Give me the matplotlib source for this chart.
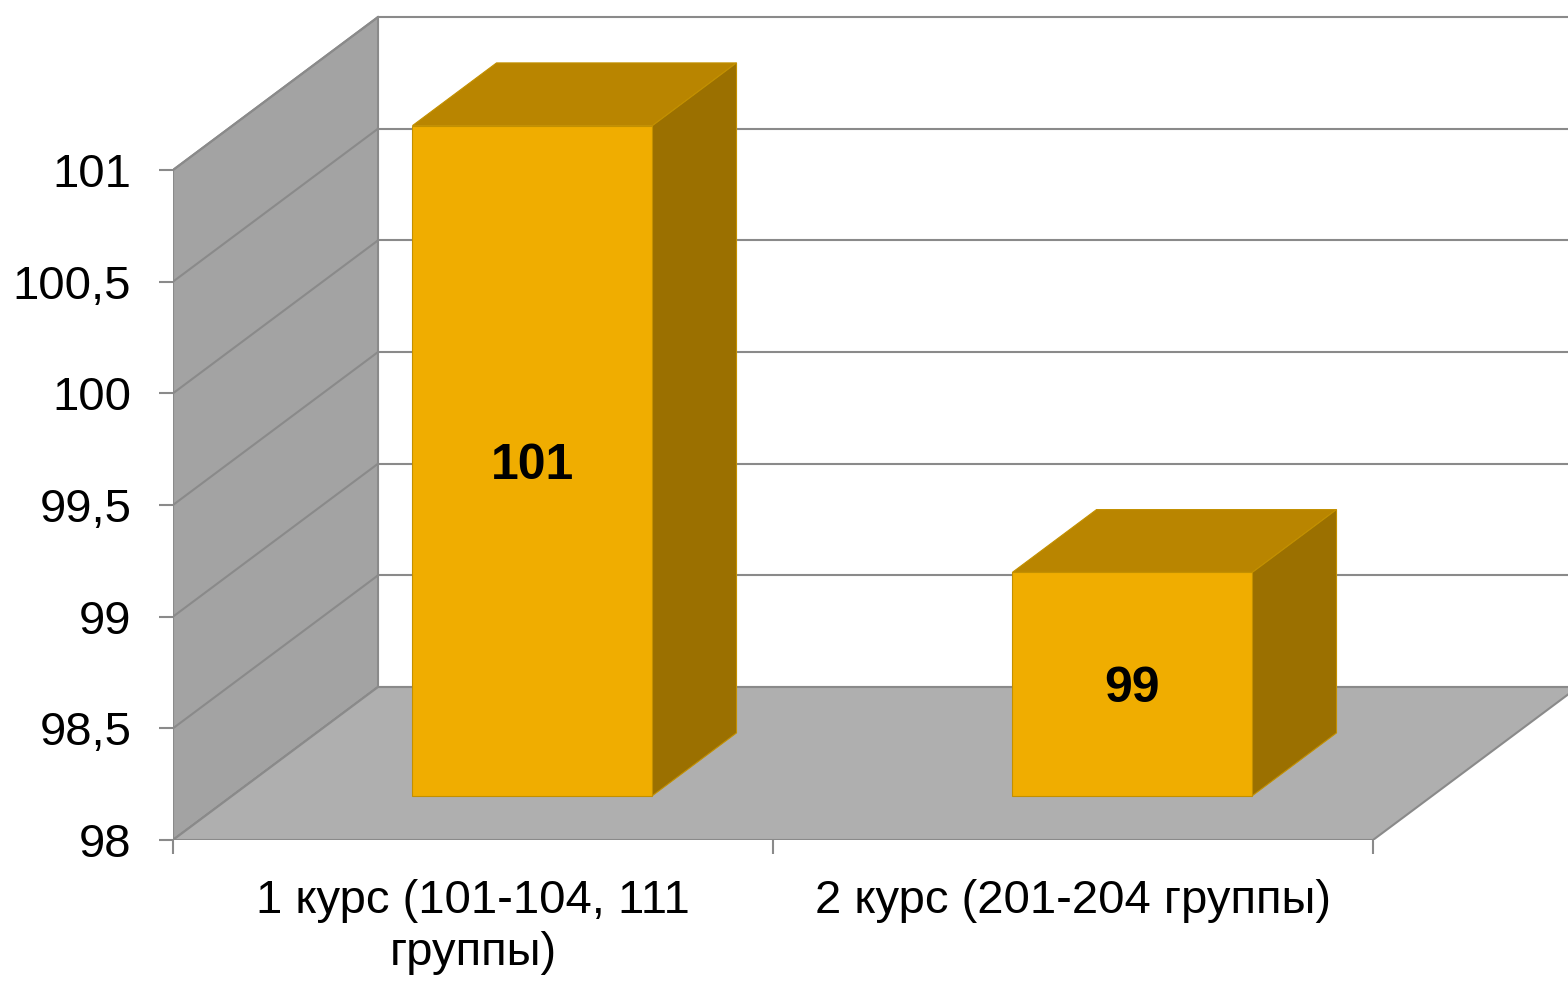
import matplotlib.pyplot as plt
from matplotlib.patches import Polygon

categories = ['1 курс (101-104, 111\nгруппы)', '2 курс (201-204 группы)']
values = [101, 99]
y_ticks = [98, 98.5, 99, 99.5, 100, 100.5, 101]

# pseudo-3d settings (Excel-like oblique view)
DEPTH_X = 0.3417   # back shift in category units
DEPTH_Y = 0.685    # back shift in value units
BAR_W = 0.4
Z_FRONT, Z_BACK = 0.29, 0.70

WALL = '#a3a3a3'
FLOOR = '#afafaf'
LINE = '#8a8a8a'
FRONT = '#f0ad00'
TOP = '#b98500'
SIDE = '#9b7000'
EDGE = '#c39000'

plt.rcParams['font.family'] = ['Liberation Sans', 'DejaVu Sans']


def proj(x, y, z):
    return (x + z * DEPTH_X, y + z * DEPTH_Y)


fig = plt.figure(figsize=(15.68, 9.81), dpi=100)
ax = fig.add_axes([173 / 1568, 141 / 981, 1395 / 1568, 826 / 981])
n = len(categories)
ymin, ymax = y_ticks[0], y_ticks[-1]
ax.set_xlim(0, 2.325)
ax.set_ylim(ymin, ymin + 3.6985)

# left wall
ax.add_patch(Polygon([proj(0, ymin, 0), proj(0, ymax, 0), proj(0, ymax, 1), proj(0, ymin, 1)],
                     closed=True, facecolor=WALL, edgecolor=LINE, lw=1.5, zorder=1))
# floor
ax.add_patch(Polygon([proj(0, ymin, 0), proj(n, ymin, 0), proj(n, ymin, 1), proj(0, ymin, 1)],
                     closed=True, facecolor=FLOOR, edgecolor=LINE, lw=1.5, zorder=2))

# gridlines on left and back walls
for t in y_ticks:
    p0 = proj(0, t, 0)
    p1 = proj(0, t, 1)
    p2 = proj(n + 1, t, 1)
    ax.plot([p0[0], p1[0]], [p0[1], p1[1]], color=LINE, lw=1.5, zorder=1.5)
    ax.plot([p1[0], p2[0]], [p1[1], p2[1]], color=LINE, lw=1.5, zorder=1.5)

# bars
for i, v in enumerate(values):
    x0 = i + 0.5 - BAR_W / 2
    x1 = i + 0.5 + BAR_W / 2
    front = [proj(x0, ymin, Z_FRONT), proj(x1, ymin, Z_FRONT), proj(x1, v, Z_FRONT), proj(x0, v, Z_FRONT)]
    top = [proj(x0, v, Z_FRONT), proj(x1, v, Z_FRONT), proj(x1, v, Z_BACK), proj(x0, v, Z_BACK)]
    side = [proj(x1, ymin, Z_FRONT), proj(x1, ymin, Z_BACK), proj(x1, v, Z_BACK), proj(x1, v, Z_FRONT)]
    ax.add_patch(Polygon(top, closed=True, facecolor=TOP, edgecolor=EDGE, lw=0.8, zorder=3))
    ax.add_patch(Polygon(side, closed=True, facecolor=SIDE, edgecolor=EDGE, lw=0.8, zorder=3))
    ax.add_patch(Polygon(front, closed=True, facecolor=FRONT, edgecolor=EDGE, lw=0.8, zorder=4))
    cx, cy = proj(i + 0.5, (ymin + v) / 2, Z_FRONT)
    ax.text(cx, cy, f'{v:g}', ha='center', va='center_baseline', fontsize=36,
            fontweight='bold', color='black', zorder=5)

for s in ax.spines.values():
    s.set_visible(False)
ax.set_facecolor('none')

ax.set_yticks(y_ticks)
ax.set_yticklabels([f'{t:g}'.replace('.', ',') for t in y_ticks])
ax.tick_params(axis='y', length=10, width=1.5, color=LINE, pad=20, labelsize=34)

ax.set_xticks(range(n + 1))
ax.set_xticklabels([''] * (n + 1))
ax.set_xticks([i + 0.5 for i in range(n)], minor=True)
ax.set_xticklabels(categories, minor=True, linespacing=1.25)
ax.tick_params(axis='x', which='major', length=10, width=1.5, color=LINE)
ax.tick_params(axis='x', which='minor', length=0, pad=28, labelsize=34)

fig.savefig('out.png', dpi=100)
